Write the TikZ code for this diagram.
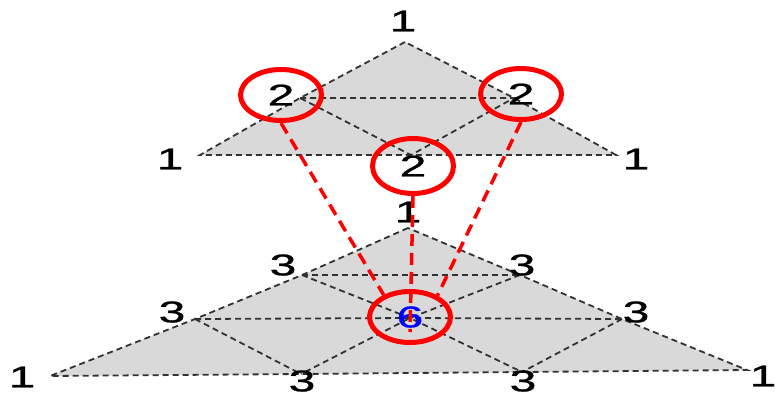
\documentclass[tikz,border=0pt]{standalone}
\usepackage{fontspec}
\setmainfont{Liberation Sans}
\newfontfamily\digitfont[FakeBold=0.8]{Liberation Sans}
\usepackage{graphicx}
\usepackage{xcolor}
\usepackage{tikz}
\usetikzlibrary{shapes.geometric, calc}
\definecolor{meshgray}{RGB}{50, 50, 50}
\definecolor{cellgray}{RGB}{217, 217, 217}
\definecolor{markred}{RGB}{255, 0, 0}
\definecolor{sumblue}{RGB}{0, 0, 255}
\newcommand{\wide}[1]{\scalebox{1.6}[1]{#1}}

\begin{document}
\begin{tikzpicture}[
    x=1pt, y=-1pt,
    mesh/.style={draw=meshgray, line width=1.8pt, dash pattern=on 6pt off 4pt},
    cell/.style={fill=cellgray},
    num/.style={inner sep=0pt, font=\digitfont\fontsize{30}{36}\selectfont},
    ring/.style={ellipse, draw=markred, line width=5pt, minimum width=81pt, minimum height=51pt, inner sep=0pt, font=\digitfont\fontsize{30}{36}\selectfont},
    link/.style={draw=markred, line width=3.5pt, dash pattern=on 12pt off 7pt}
]
    \useasboundingbox (0,0) rectangle (775,397);

    % upper triangle
    \coordinate (uA) at (405,42);
    \coordinate (uB0) at (200,155);
    \coordinate (uB2) at (616,155);
    \coordinate (uM1) at (300,98);
    \coordinate (uM2) at (514,98);
    \coordinate (uM3) at (411,155);

    % lower triangle
    \coordinate (bA) at (408,228);
    \coordinate (bL1a) at (302,275);
    \coordinate (bL1b) at (520,275);
    \coordinate (bL2a) at (195,319);
    \coordinate (bC) at (410,318);
    \coordinate (bL2b) at (622,319);
    \coordinate (bB0) at (50,376);
    \coordinate (bB1) at (301,374);
    \coordinate (bB2) at (522,372);
    \coordinate (bB3) at (747,370);

    \fill[cell] (uA) -- (uM1) -- (uB0) -- (uM3) -- (uB2) -- (uM2) -- cycle;
    \fill[cell] (bA) -- (bL1a) -- (bL2a) -- (bB0) -- (bB1) -- (bB2) -- (bB3) -- (bL2b) -- (bL1b) -- cycle;

    \draw[mesh] (uA) -- (uM1) -- (uB0) -- (uM3) -- (uB2) -- (uM2) -- cycle;
    \draw[mesh] (uM1) -- (uM2) -- (uM3) -- cycle;

    \draw[mesh] (bA) -- (bL1a) -- (bL2a) -- (bB0) -- (bB1) -- (bB2) -- (bB3) -- (bL2b) -- (bL1b) -- cycle;
    \draw[mesh] (bL1a) -- (bL1b);
    \draw[mesh] (bL2a) -- (bC) -- (bL2b);
    \draw[mesh] (bL1a) -- (bC) -- (bB2);
    \draw[mesh] (bL1b) -- (bC) -- (bB1);
    \draw[mesh] (bL2a) -- (bB1);
    \draw[mesh] (bL2b) -- (bB2);

    % labels
    \node[num] (uAn) at (403,21) {\wide{1}};
    \node[num] (uB0n) at (170,159) {\wide{1}};
    \node[num] (uB2n) at (636,159) {\wide{1}};

    \node[num] (bAn) at (408,212) {\wide{1}};
    \node[num] (bL1an) at (283,265) {\wide{3}};
    \node[num] (bL1bn) at (522,265) {\wide{3}};
    \node[num] (bL2an) at (172,312) {\wide{3}};
    \node[num] (bL2bn) at (636,312) {\wide{3}};
    \node[num] (bB0n) at (22,377) {\wide{1}};
    \node[num] (bB1n) at (302,381) {\wide{3}};
    \node[num] (bB2n) at (523,381) {\wide{3}};
    \node[num] (bB3n) at (763,376) {\wide{1}};

    % marked nodes
    \node[ring] (c1) at (281,95) {\wide{2}};
    \node[ring] (c2) at (521,94) {\wide{2}};
    \node[ring, minimum height=55pt] (c3) at (413,166) {\wide{2}};
    \node[ring, text=sumblue] (c6) at (410,317) {\wide{6}};

    \coordinate (c6tail) at (410,332);
    \draw[link] (c1.south) -- (c6.140);
    \draw[link] (c2.south) -- (c6.38);
    \draw[link] (c3.south) -- (c6tail);
\end{tikzpicture}
\end{document}
